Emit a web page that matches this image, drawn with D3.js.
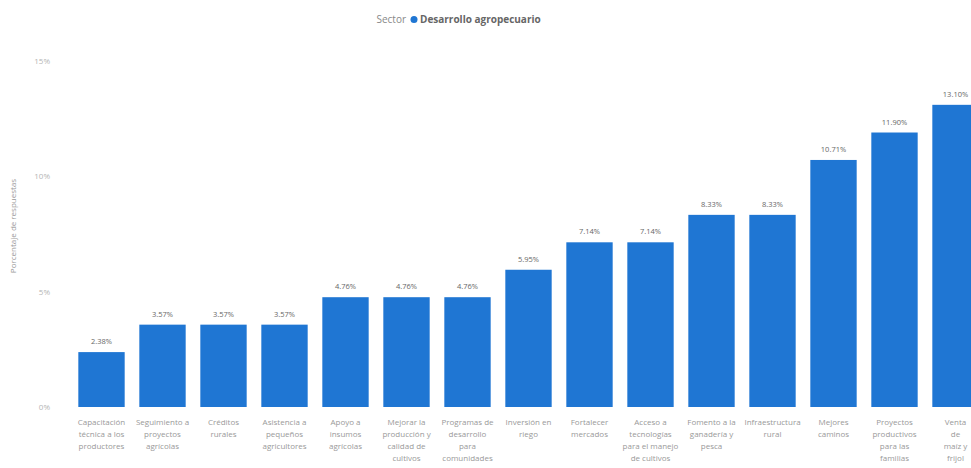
<!DOCTYPE html>
<html><head><meta charset="utf-8">
<script src="https://cdn.jsdelivr.net/npm/d3@7"></script>
<style>
html,body{margin:0;padding:0;background:#fff;}
svg{display:block;font-family:"Open Sans","Noto Sans",sans-serif;}
</style></head>
<body>
<svg id="chart" width="971" height="468"></svg>
<script>
const categories = [
  "Capacitación técnica a los productores",
  "Seguimiento a proyectos agrícolas",
  "Créditos rurales",
  "Asistencia a pequeños agricultores",
  "Apoyo a insumos agrícolas",
  "Mejorar la producción y calidad de cultivos",
  "Programas de desarrollo para comunidades",
  "Inversión en riego",
  "Fortalecer mercados",
  "Acceso a tecnologías para el manejo de cultivos",
  "Fomento a la ganadería y pesca",
  "Infraestructura rural",
  "Mejores caminos",
  "Proyectos productivos para las familias",
  "Venta de maíz y frijol"
];
const values = [2.38, 3.57, 3.57, 3.57, 4.76, 4.76, 4.76, 5.95, 7.14, 7.14, 8.33, 8.33, 10.71, 11.90, 13.10];
const yTicks = [0, 5, 10, 15];
const legendTitle = "Sector";
const seriesName = "Desarrollo agropecuario";
const yAxisTitle = "Porcentaje de respuestas";

const W = 971;
const svg = d3.select("#chart");
const barColor = "#1f76d3";

const x = d3.scaleBand().domain(categories).range([71, 986]).paddingInner(0.24).paddingOuter(0.12);
const y = d3.scaleLinear().domain([0, 15]).range([407, 61]);

// legend
const lg = svg.append("g").attr("transform", "translate(0,19)");
lg.append("text").attr("x", 406).attr("y", 4).attr("text-anchor", "end")
  .attr("font-size", 10).attr("fill", "#888").text(legendTitle);
lg.append("circle").attr("cx", 414).attr("cy", 0.5).attr("r", 3.5).attr("fill", barColor);
lg.append("text").attr("x", 420).attr("y", 4).attr("font-size", 10).attr("font-weight", "bold")
  .attr("fill", "#666").text(seriesName);

// y axis
const yAxis = d3.axisLeft(y).tickValues(yTicks).tickFormat(d => d + "%").tickSize(0).tickPadding(0);
const ya = svg.append("g").attr("transform", "translate(50,0)").call(yAxis);
ya.select(".domain").remove();
ya.selectAll("text").attr("font-size", 8).attr("fill", "#b5b5b5").attr("font-family", "Open Sans, sans-serif");

svg.append("text").attr("transform", "translate(16,226) rotate(-90)")
  .attr("text-anchor", "middle").attr("font-size", 8).attr("fill", "#999").text(yAxisTitle);

// bars
svg.append("g").selectAll("rect").data(values).join("rect")
  .attr("x", (d, i) => x(categories[i]))
  .attr("y", d => y(d))
  .attr("width", x.bandwidth())
  .attr("height", d => y(0) - y(d))
  .attr("fill", barColor);

// value labels
svg.append("g").selectAll("text").data(values).join("text")
  .attr("x", (d, i) => x(categories[i]) + x.bandwidth() / 2)
  .attr("y", d => y(d) - 8)
  .attr("text-anchor", "middle").attr("font-size", 7.5).attr("fill", "#666")
  .text(d => d.toFixed(2) + "%");

// x axis labels with wrapping
const xAxis = d3.axisBottom(x).tickSize(0).tickPadding(0);
const xa = svg.append("g").attr("transform", "translate(0,419)").call(xAxis);
xa.select(".domain").remove();
xa.selectAll("text").attr("font-size", 8).attr("fill", "#999").attr("font-family", "Open Sans, sans-serif")
  .each(function(t) {
    const el = d3.select(this);
    const cx = x(t) + x.bandwidth() / 2;
    const maxW = Math.min(56, 2 * (W - cx) - 2);
    const words = t.split(/\s+/);
    el.text(null);
    let line = [];
    let tspan = el.append("tspan").attr("x", 0).attr("dy", "0.71em");
    for (const w of words) {
      line.push(w);
      tspan.text(line.join(" "));
      if (tspan.node().getComputedTextLength() > maxW && line.length > 1) {
        line.pop();
        tspan.text(line.join(" "));
        line = [w];
        tspan = el.append("tspan").attr("x", 0).attr("dy", "1.5em").text(w);
      }
    }
  });
</script>
</body></html>
